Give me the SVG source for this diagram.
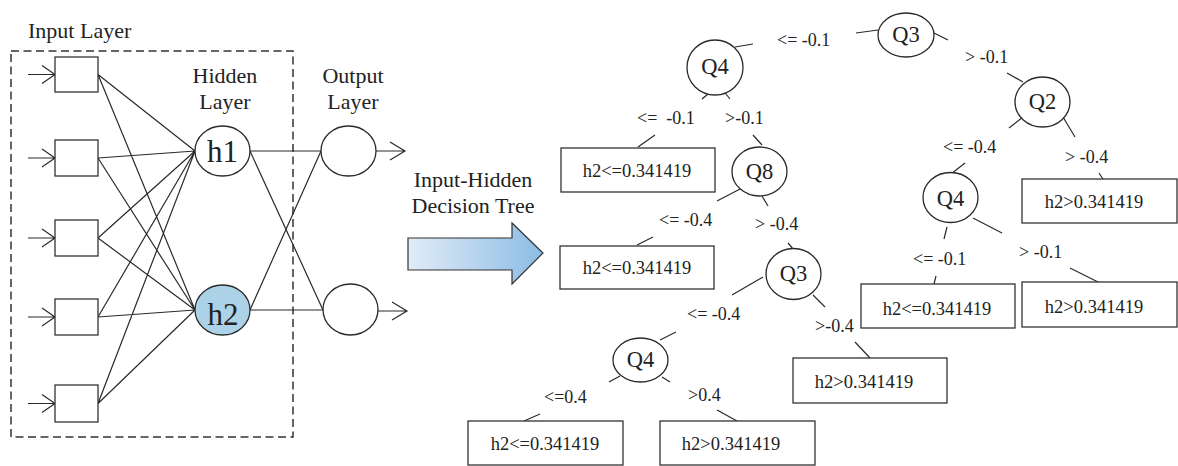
<svg xmlns="http://www.w3.org/2000/svg" width="1178" height="466" viewBox="0 0 1178 466" font-family="'Liberation Serif', 'DejaVu Serif', serif">
<defs>
<linearGradient id="blueGrad" x1="0" y1="0" x2="1" y2="0">
<stop offset="0" stop-color="#e1ecf7"/>
<stop offset="1" stop-color="#8bbce4"/>
</linearGradient>
<style>
text{font-family:'Liberation Serif','DejaVu Serif',serif;fill:#222}
.ttl{font-size:22px}
.hn{font-size:31px;text-anchor:middle}
.qn{font-size:22.5px;text-anchor:middle}
.lbl{font-size:18px;white-space:pre}
.bt{font-size:18.5px;text-anchor:middle}
.ln{stroke:#2a2a2a;stroke-width:1.2;fill:none}
.box{fill:#fff;stroke:#333;stroke-width:1.3}
.nd{fill:#fff;stroke:#2a2a2a;stroke-width:1.3}
.arr{fill:none;stroke:#2a2a2a;stroke-width:1.2}
</style>
</defs>
<rect width="1178" height="466" fill="#fff"/>

<rect x="11" y="51" width="282" height="386" fill="none" stroke="#333" stroke-width="1.5" stroke-dasharray="8,4.5"/>
<text class="ttl" x="28" y="38">Input Layer</text>
<text class="ttl" x="225" y="83" text-anchor="middle">Hidden</text>
<text class="ttl" x="225" y="109" text-anchor="middle">Layer</text>
<text class="ttl" x="353" y="83" text-anchor="middle">Output</text>
<text class="ttl" x="353" y="109" text-anchor="middle">Layer</text>

<g id="connectors">
<path class="ln" d="M98,74.5 L195,151 M98,74.5 L195,310 M98,158 L195,151 M98,158 L195,310 M98,238 L195,151 M98,238 L195,310 M98,317 L195,151 M98,317 L195,310 M98,403.5 L195,151 M98,403.5 L195,310"/>
<path class="ln" d="M250,151 L321,151 M250,151 L323,310 M250,310 L321,151 M250,310 L323,310"/>
<path class="arr" d="M28,74.5 H55 M42,65.5 L55,74.5 L42,83.5"/>
<path class="arr" d="M28,158 H55 M42,149 L55,158 L42,167"/>
<path class="arr" d="M28,238 H55 M42,229 L55,238 L42,247"/>
<path class="arr" d="M28,317 H55 M42,308 L55,317 L42,326"/>
<path class="arr" d="M28,403.5 H55 M42,394.5 L55,403.5 L42,412.5"/>
<path class="arr" d="M376,151 H405 M390,142 L405,151 L390,160"/>
<path class="arr" d="M378,311 H407 M392,302 L407,311 L392,320"/>
<path class="ln" d="M856,33 L878,30 M934,33 L948,40 M735,47 L753,44 M713,90 L702,99 M722,89 L730,99 M655,135 L638,147 M753,135 L762,145 M742,188 L717,201 M762,196 L768,206 M653,237 L637,245 M788,243 L793,249 M1007,73 L1023,82 M1023,117 L1009,128 M1063,117 L1075,137 M965,163 L951,174 M1099,173 L1103,179 M947,227 L944,239 M973,218 L1002,233 M936,276 L934,284 M1070,268 L1100,283 M763,277 L732,295 M813,295 L825,307 M676,332 L660,340 M855,342 L870,358 M620,376 L609,382 M662,377 L670,382 M540,414 L524,421 M717,410 L737,421"/>
</g>

<g id="in1"><rect class="box" x="55" y="57" width="43" height="35"/></g>
<g id="in2"><rect class="box" x="55" y="140" width="43" height="36"/></g>
<g id="in3"><rect class="box" x="55" y="220" width="43" height="36"/></g>
<g id="in4"><rect class="box" x="55" y="299" width="43" height="36"/></g>
<g id="in5"><rect class="box" x="55" y="385" width="43" height="37"/></g>

<g id="h1"><ellipse class="nd" cx="222.5" cy="151" rx="27.5" ry="25"/><text class="hn" x="222.5" y="162">h1</text></g>
<g id="h2"><ellipse class="nd" cx="222.5" cy="310" rx="27.5" ry="25" style="fill:#acd2e8"/><text class="hn" x="223" y="325">h2</text></g>
<g id="o1"><ellipse class="nd" cx="348.5" cy="151" rx="27.5" ry="25"/></g>
<g id="o2"><ellipse class="nd" cx="350.5" cy="309.5" rx="27.5" ry="25.5"/></g>

<g id="bigArrow">
<path d="M408,238 H512 V223 L543,253 L512,284 V270 H408 Z" fill="url(#blueGrad)" stroke="#333" stroke-width="1.2"/>
<text class="ttl" x="473" y="187" text-anchor="middle">Input-Hidden</text>
<text class="ttl" x="473" y="213" text-anchor="middle">Decision Tree</text>
</g>

<g id="labels">
<text class="lbl" x="777" y="46">&lt;= -0.1</text>
<text class="lbl" x="965" y="63">&gt; -0.1</text>
<text class="lbl" x="637" y="124">&lt;=  -0.1</text>
<text class="lbl" x="725" y="124">&gt;-0.1</text>
<text class="lbl" x="943" y="153">&lt;= -0.4</text>
<text class="lbl" x="1065" y="163">&gt; -0.4</text>
<text class="lbl" x="659" y="226">&lt;= -0.4</text>
<text class="lbl" x="755" y="230">&gt; -0.4</text>
<text class="lbl" x="913" y="265">&lt;= -0.1</text>
<text class="lbl" x="1019" y="258">&gt; -0.1</text>
<text class="lbl" x="687" y="320">&lt;= -0.4</text>
<text class="lbl" x="815" y="332">&gt;-0.4</text>
<text class="lbl" x="544" y="403">&lt;=0.4</text>
<text class="lbl" x="688" y="401">&gt;0.4</text>
</g>

<g id="q3top"><ellipse class="nd" cx="906" cy="35" rx="28" ry="22"/><text class="qn" x="906" y="42">Q3</text></g>
<g id="q4a"><ellipse class="nd" cx="715" cy="67.5" rx="28" ry="27.5"/><text class="qn" x="715" y="74">Q4</text></g>
<g id="q2"><ellipse class="nd" cx="1042.5" cy="102" rx="27.5" ry="25"/><text class="qn" x="1042.5" y="109">Q2</text></g>
<g id="q8"><ellipse class="nd" cx="759.5" cy="171.5" rx="27.5" ry="24.5"/><text class="qn" x="759.5" y="179">Q8</text></g>
<g id="q4b"><ellipse class="nd" cx="950.5" cy="197.5" rx="27.5" ry="25"/><text class="qn" x="950.5" y="206">Q4</text></g>
<g id="q3mid"><ellipse class="nd" cx="793.5" cy="274" rx="27.5" ry="25.5"/><text class="qn" x="793.5" y="281">Q3</text></g>
<g id="q4c"><ellipse class="nd" cx="640.5" cy="360" rx="27.5" ry="22"/><text class="qn" x="640.5" y="367">Q4</text></g>

<g id="leaf1"><rect class="box" x="561" y="148" width="154" height="44"/><text class="bt" x="637" y="177">h2&lt;=0.341419</text></g>
<g id="leaf2"><rect class="box" x="560" y="246" width="154" height="43"/><text class="bt" x="637" y="274">h2&lt;=0.341419</text></g>
<g id="leaf3"><rect class="box" x="1022" y="179" width="155" height="44"/><text class="bt" x="1094" y="208">h2&gt;0.341419</text></g>
<g id="leaf4"><rect class="box" x="861" y="284" width="154" height="44"/><text class="bt" x="937" y="315">h2&lt;=0.341419</text></g>
<g id="leaf5"><rect class="box" x="1022" y="282" width="155" height="45"/><text class="bt" x="1094" y="313">h2&gt;0.341419</text></g>
<g id="leaf6"><rect class="box" x="793" y="358" width="154" height="45"/><text class="bt" x="864" y="388">h2&gt;0.341419</text></g>
<g id="leaf7"><rect class="box" x="468" y="421" width="155" height="44"/><text class="bt" x="545" y="450">h2&lt;=0.341419</text></g>
<g id="leaf8"><rect class="box" x="660" y="421" width="155" height="44"/><text class="bt" x="731" y="450">h2&gt;0.341419</text></g>
</svg>
